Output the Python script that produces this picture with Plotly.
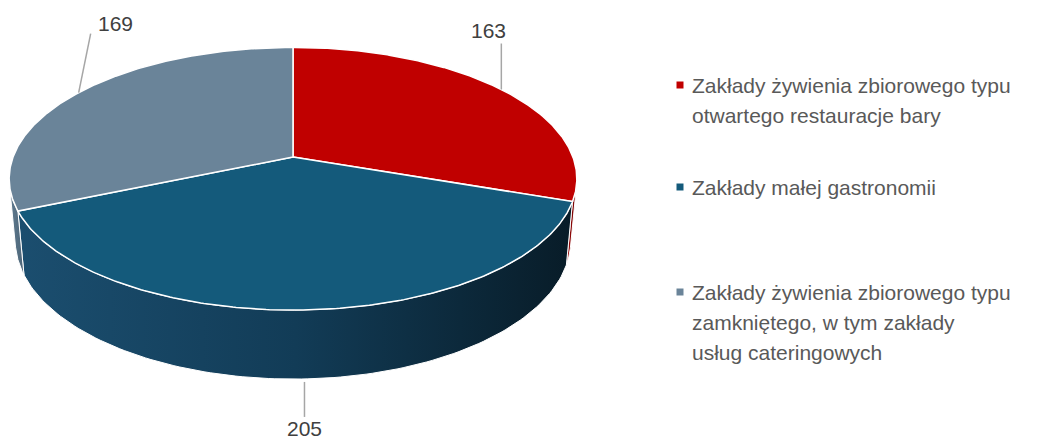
import numpy as np
import plotly.graph_objects as go

# ---------------- data ----------------
categories = [
    "Zakłady żywienia zbiorowego typu otwartego restauracje bary",
    "Zakłady małej gastronomii",
    "Zakłady żywienia zbiorowego typu zamkniętego, w tym zakłady usług cateringowych",
]
values = [163, 205, 169]
legend_lines = [
    ["Zakłady żywienia zbiorowego typu", "otwartego restauracje bary"],
    ["Zakłady małej gastronomii"],
    ["Zakłady żywienia zbiorowego typu", "zamkniętego, w tym zakłady", "usług cateringowych"],
]

# ---------------- style ----------------
top_colors = ["#c00000", "#145a7b", "#6a8499"]
side_scales = [
    [[0, "#a01010"], [1, "#700000"]],
    [[0, "#1b4e6f"], [0.5, "#123c57"], [1, "#081c28"]],
    [[0, "#5f7a8f"], [1, "#4c6578"]],
]
# leader line length vector (px) and label offset from the leader end (px)
leader_vec = [(0, -46), (0, 35), (12, -59)]
label_off = [(-13, -13), (0, 12), (25, -10)]
legend_y0 = [85, 187, 292]
line_pitch = 30

W, Hpx = 1042, 441
CX, CY = 293, 157
F = 1505.0
R = 0.186
PHI = np.arccos(0.1655 / R)
DEPTH = 0.0465


def proj(theta, h, r=R):
    X = r * np.sin(theta)
    Z = r * np.cos(theta)
    d = 1 - h * np.sin(PHI) + Z * np.cos(PHI)
    v = h * np.cos(PHI) + Z * np.sin(PHI)
    return CX + F * X / d, CY - F * v / d


total = float(sum(values))
bounds = np.concatenate([[0], np.cumsum(values)]) / total * 2 * np.pi
th_s = np.arccos(-R / np.cos(PHI))  # silhouette of the cylinder wall
front_lo, front_hi = th_s, 2 * np.pi - th_s

fig = go.Figure()

# side walls
for i in range(len(values)):
    a, b = max(bounds[i], front_lo), min(bounds[i + 1], front_hi)
    if b <= a:
        continue
    th = np.linspace(a, b, 120)
    xt, yt = proj(th, 0.0)
    xb, yb = proj(th[::-1], -DEPTH)
    xs = np.concatenate([xt, xb, xt[:1]])
    ys = np.concatenate([yt, yb, yt[:1]])
    fig.add_trace(go.Scatter(
        x=xs, y=ys, mode="lines", fill="toself",
        fillcolor=side_scales[i][0][1],
        fillgradient=dict(type="horizontal", colorscale=side_scales[i]),
        line=dict(color="white", width=1), hoverinfo="skip", showlegend=False))

# top faces
for i in range(len(values)):
    th = np.linspace(bounds[i], bounds[i + 1], 240)
    xa, ya = proj(th, 0.0)
    xs = np.concatenate([[CX], xa, [CX]])
    ys = np.concatenate([[CY], ya, [CY]])
    fig.add_trace(go.Scatter(
        x=xs, y=ys, mode="lines", fill="toself", fillcolor=top_colors[i],
        line=dict(color="white", width=1.5), name=categories[i],
        hoverinfo="name", showlegend=False))

# data labels with leader lines
for i, v in enumerate(values):
    mid = (bounds[i] + bounds[i + 1]) / 2
    if front_lo < mid < front_hi:
        x0, y0 = proj(mid, -DEPTH)
        y0 += 3
    else:
        x0, y0 = proj(mid, 0.0)
    x1, y1 = x0 + leader_vec[i][0], y0 + leader_vec[i][1]
    fig.add_shape(type="line", x0=x0, y0=y0, x1=x1, y1=y1,
                  line=dict(color="#a6a6a6", width=1.5), xref="x", yref="y")
    fig.add_annotation(x=x1 + label_off[i][0], y=y1 + label_off[i][1],
                       text=str(v), showarrow=False, xanchor="center",
                       yanchor="middle",
                       font=dict(family="Liberation Sans", size=21, color="#404040"))

# legend
for i, lines in enumerate(legend_lines):
    y = legend_y0[i]
    fig.add_shape(type="rect", x0=676.5, x1=683.5, y0=y - 3.5, y1=y + 3.5,
                  fillcolor=top_colors[i], line=dict(width=0), xref="x", yref="y")
    for j, t in enumerate(lines):
        fig.add_annotation(x=690, y=y + j * line_pitch, text=t, showarrow=False,
                           xanchor="left", yanchor="middle",
                           font=dict(family="Liberation Sans", size=21, color="#595959"))

fig.update_layout(
    width=W, height=Hpx, margin=dict(l=0, r=0, t=0, b=0),
    paper_bgcolor="white", plot_bgcolor="white", showlegend=False,
    xaxis=dict(range=[0, W], visible=False, fixedrange=True),
    yaxis=dict(range=[Hpx, 0], visible=False, fixedrange=True),
)
fig.write_html("out.html", config={"displayModeBar": False},
               post_script="document.body.style.margin='0';document.body.style.overflow='hidden';")
